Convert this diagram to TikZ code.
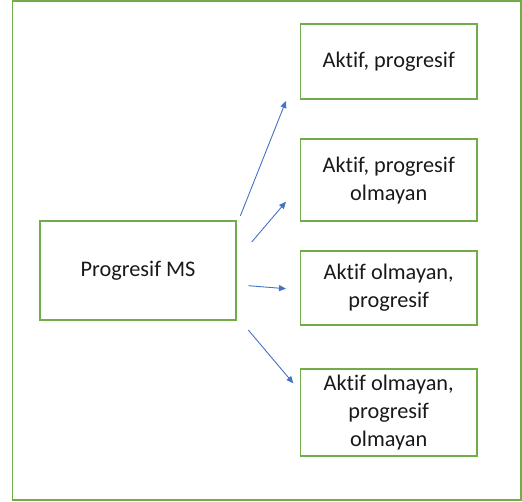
\documentclass[tikz,border=0pt]{standalone}
\usepackage{fontspec}
\setmainfont[Ligatures=NoCommon]{Carlito}
\usetikzlibrary{arrows.meta}
\definecolor{boxgreen}{HTML}{70AD47}
\definecolor{arrowblue}{HTML}{4472C4}
\begin{document}
\begin{tikzpicture}[x=1pt,y=-1pt,
  box/.style={draw=boxgreen,line width=1.8pt,rectangle,inner sep=0pt,
    align=center,font=\fontsize{22.3}{28}\selectfont,text=black!90},
  link/.style={draw=arrowblue,line width=0.9pt,
    -{Triangle[length=7pt,width=6pt]}}]
\useasboundingbox (0,0) rectangle (522,501);
% outer frame
\draw[boxgreen,line width=1.8pt] (12.5,0.8) rectangle (520.8,500);
% source box
\node[box,minimum width=196pt,minimum height=99pt] (src) at (138,270.5) {Progresif MS};
% outcome boxes
\node[box,minimum width=176.5pt,minimum height=75pt] (o1) at (388.7,61.7) {Aktif, progresif};
\node[box,minimum width=176.5pt,minimum height=82pt] (o2) at (388.7,180.3) {Aktif, progresif\\olmayan};
\node[box,minimum width=176.5pt,minimum height=74.5pt] (o3) at (388.7,288) {Aktif olmayan,\\progresif};
\node[box,minimum width=176.5pt,minimum height=87pt] (o4) at (388.7,412.5) {Aktif olmayan,\\progresif\\olmayan};
% arrow end points
\coordinate (s1) at (240.3,216);   \coordinate (e1) at (286,101);
\coordinate (s2) at (251.7,242);   \coordinate (e2) at (286,201.7);
\coordinate (s3) at (248.3,285.7); \coordinate (e3) at (286,288.7);
\coordinate (s4) at (248.3,330);   \coordinate (e4) at (293.3,383.3);
\draw[link] (s1) -- (e1);
\draw[link] (s2) -- (e2);
\draw[link] (s3) -- (e3);
\draw[link] (s4) -- (e4);
\end{tikzpicture}
\end{document}
